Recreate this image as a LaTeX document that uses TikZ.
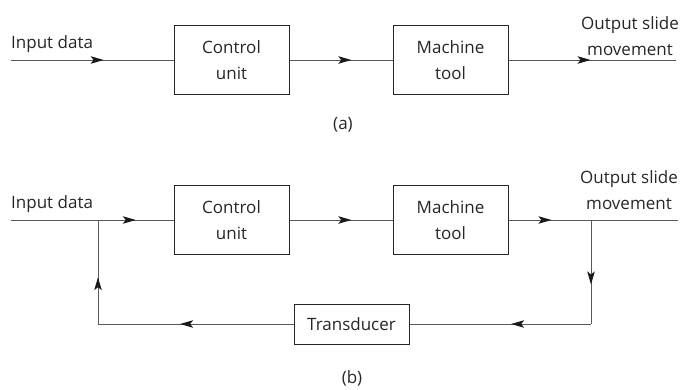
\documentclass[tikz,border=0pt]{standalone}
\usepackage{fontspec}
\setmainfont{Open Sans}
\usetikzlibrary{arrows.meta,decorations.markings}

\tikzset{
	blk/.style={draw=black!85, line width=1pt, minimum width=115pt, minimum height=69pt, align=center, inner sep=0pt},
	sig/.style={draw=black!65, line width=1pt},
	mid/.style={postaction={decorate}, decoration={markings, mark=at position #1 with {\arrow[black!90, line width=1pt]{Stealth[length=13pt,width=7.5pt,inset=3pt]}}}},
}

\begin{document}
\begin{tikzpicture}[x=1pt, y=-1pt, every node/.style={font=\fontsize{17}{26}\selectfont, text=black!85}]
	\useasboundingbox (0,0) rectangle (683,389);
	% (a) open loop
	\node[blk] (cu1) at (231.5,60) {Control\\unit};
	\node[blk] (mt1) at (450.5,60) {Machine\\tool};
	\coordinate (in1) at (11,60);
	\coordinate (out1) at (676,60);
	\draw[sig, mid=0.57] (in1) -- (cu1);
	\draw[sig, mid=0.60] (cu1) -- (mt1);
	\draw[sig, mid=0.49] (mt1) -- (out1);
	\node[anchor=base west, inner sep=0pt] (lin1) at (11,48) {Input data};
	\node[align=center, anchor=south, inner sep=0pt] (lout1) at (630,56) {Output slide\\movement};
	\node (capa) at (343,125) {(a)};
	% (b) closed loop
	\node[blk] (cu2) at (231.5,220) {Control\\unit};
	\node[blk] (mt2) at (450.5,220) {Machine\\tool};
	\node[blk, minimum height=40pt] (tr) at (351.5,324) {Transducer};
	\coordinate (in2) at (11,220);
	\coordinate (j1) at (98,220);
	\coordinate (j2) at (591,220);
	\coordinate (out2) at (678,220);
	\coordinate (c1) at (98,324);
	\coordinate (c2) at (591,324);
	\draw[sig] (in2) -- (j1);
	\draw[sig, mid=0.50] (j1) -- (cu2);
	\draw[sig, mid=0.60] (cu2) -- (mt2);
	\draw[sig, mid=0.52] (mt2) -- (j2);
	\draw[sig] (j2) -- (out2);
	% feedback path
	\draw[sig, mid=0.62] (j2) -- (c2);
	\draw[sig, mid=0.44] (c2) -- (tr);
	\draw[sig, mid=0.58] (tr) -- (c1);
	\draw[sig, mid=0.45] (c1) -- (j1);
	\node[anchor=base west, inner sep=0pt] (lin2) at (11,208) {Input data};
	\node[align=center, anchor=south, inner sep=0pt] (lout2) at (629,210) {Output slide\\movement};
	\node (capb) at (352,378) {(b)};
\end{tikzpicture}
\end{document}
